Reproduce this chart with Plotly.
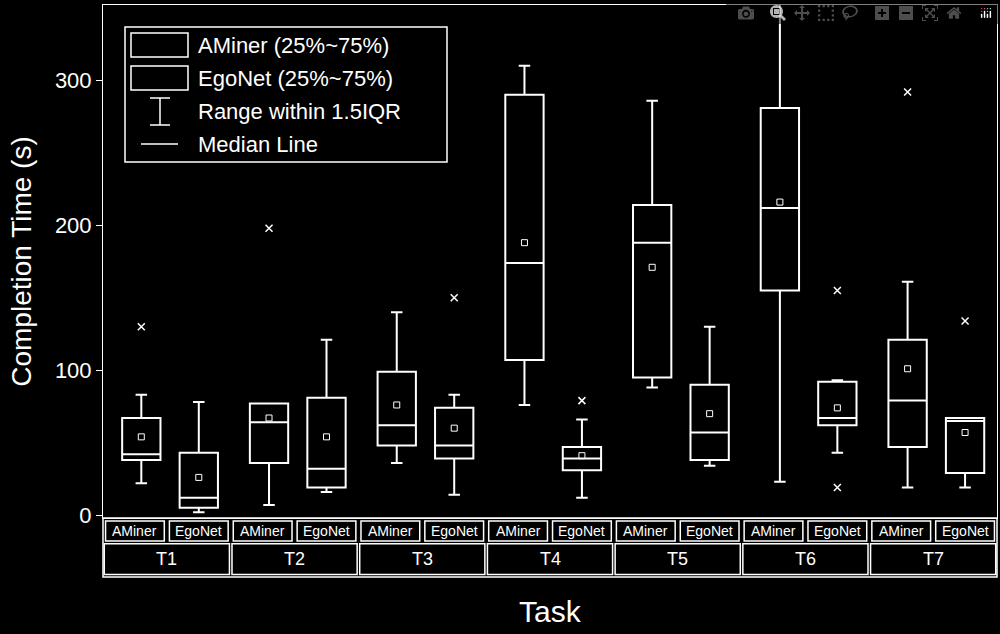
import plotly.graph_objects as go

# Task and group labels
tasks = ["T1", "T2", "T3", "T4", "T5", "T6", "T7"]
groups = ["AMiner", "EgoNet"]

# Box stats (seconds), order: T1 AMiner, T1 EgoNet, T2 AMiner, ...
q1 = [38, 5, 36, 19, 48, 39, 107, 31, 95, 38, 155, 62, 47, 29]
median = [42, 12, 64, 32, 62, 48, 174, 39, 188, 57, 212, 67, 79, 65]
q3 = [67, 43, 77, 81, 99, 74, 290, 47, 214, 90, 281, 92, 121, 67]
lower = [22, 2, 7, 16, 36, 14, 76, 12, 88, 34, 23, 43, 19, 19]
upper = [83, 78, 77, 121, 140, 83, 310, 66, 286, 130, 360, 93, 161, 67]
mean = [54, 26, 67, 54, 76, 60, 188, 41, 171, 70, 216, 74, 101, 57]

# Outliers: (box index, value)
out_idx = [0, 2, 5, 7, 11, 11, 12, 13]
out_val = [130, 198, 150, 79, 155, 19, 292, 134]

W, H = 1000, 634
L, R, T, B = 103, 3, 5, 116
pw, ph = W - L - R, H - T - B

def px(x):
    return (x - L) / pw

def py(y):
    return (H - B - y) / ph

offs = [0.3, 0.75]
xpos = [i + offs[j] for i in range(len(tasks)) for j in range(2)]

fig = go.Figure()
fig.add_trace(go.Box(
    x=xpos, q1=q1, median=median, q3=q3, lowerfence=lower, upperfence=upper,
    width=0.3, fillcolor="black", line=dict(color="white", width=2),
    whiskerwidth=0.3, showlegend=False, hoverinfo="skip",
))
fig.add_trace(go.Scatter(
    x=xpos, y=mean, mode="markers", showlegend=False,
    marker=dict(symbol="square-open", size=6, color="white"),
))
fig.add_trace(go.Scatter(
    x=[xpos[i] for i in out_idx], y=out_val, mode="markers", showlegend=False,
    marker=dict(symbol="x-thin-open", size=7, color="white", line=dict(color="white", width=1.5)),
))

shapes = []
annotations = []
white = dict(color="white", width=1.5)
# category table below the axis
r1a, r1b = -0.006, -0.045
r2a, r2b = -0.05, -0.11
for i, t in enumerate(tasks):
    for j, g in enumerate(groups):
        x0 = i + j * 0.5 + 0.02
        x1 = i + j * 0.5 + 0.48
        shapes.append(dict(type="rect", xref="x", yref="paper", x0=x0, x1=x1, y0=r1b, y1=r1a, line=white))
        annotations.append(dict(x=(x0 + x1) / 2, y=(r1a + r1b) / 2, xref="x", yref="paper", text=g,
                                yanchor="middle", showarrow=False, font=dict(size=14, color="white")))
    shapes.append(dict(type="rect", xref="x", yref="paper", x0=i + 0.01, x1=i + 0.99, y0=r2b, y1=r2a, line=white))
    annotations.append(dict(x=i + 0.5, y=(r2a + r2b) / 2, xref="x", yref="paper", text=t,
                            yanchor="middle", showarrow=False, font=dict(size=18, color="white")))
shapes.append(dict(type="rect", xref="paper", yref="paper", x0=0, x1=1, y0=-0.115, y1=0, line=white))

# legend drawn by hand
shapes.append(dict(type="rect", xref="paper", yref="paper", x0=px(125), x1=px(447), y0=py(162), y1=py(27), line=white))
leg = ["AMiner (25%~75%)", "EgoNet (25%~75%)", "Range within 1.5IQR", "Median Line"]
for k, txt in enumerate(leg):
    yc = 45 + k * 33
    annotations.append(dict(x=px(196), y=py(yc), xref="paper", yref="paper", text=txt, xanchor="left",
                            yanchor="middle", showarrow=False, font=dict(size=22, color="white")))
for yc in (45, 78):
    shapes.append(dict(type="rect", xref="paper", yref="paper", x0=px(131), x1=px(188),
                       y0=py(yc + 12), y1=py(yc - 12), line=white))
shapes.append(dict(type="line", xref="paper", yref="paper", x0=px(160), x1=px(160), y0=py(125), y1=py(98), line=white))
shapes.append(dict(type="line", xref="paper", yref="paper", x0=px(150), x1=px(170), y0=py(98), y1=py(98), line=white))
shapes.append(dict(type="line", xref="paper", yref="paper", x0=px(150), x1=px(170), y0=py(125), y1=py(125), line=white))
shapes.append(dict(type="line", xref="paper", yref="paper", x0=px(141), x1=px(178), y0=py(144), y1=py(144), line=white))

annotations.append(dict(x=0.5, y=py(612), xref="paper", yref="paper", text="Task", yanchor="middle",
                        showarrow=False, font=dict(size=30, color="white")))

fig.update_layout(
    width=W, height=H, margin=dict(l=L, r=R, t=T, b=B),
    paper_bgcolor="black", plot_bgcolor="black",
    font=dict(family="Liberation Sans, Arial", color="white"),
    shapes=shapes, annotations=annotations,
    xaxis=dict(range=[0, 7], showticklabels=False, showgrid=False, zeroline=False,
               showline=True, linecolor="white", mirror=True, ticks=""),
    yaxis=dict(range=[-2, 352], tickvals=[0, 100, 200, 300], showgrid=False, zeroline=False,
               showline=True, linecolor="white", mirror=True, ticks="outside", ticklen=6,
               tickcolor="white", tickfont=dict(size=22, color="white"),
               title=dict(text="Completion Time (s)", font=dict(size=28, color="white"))),
)

fig.write_html("out.html", post_script="document.body.style.margin='0';document.body.style.overflow='hidden';")
